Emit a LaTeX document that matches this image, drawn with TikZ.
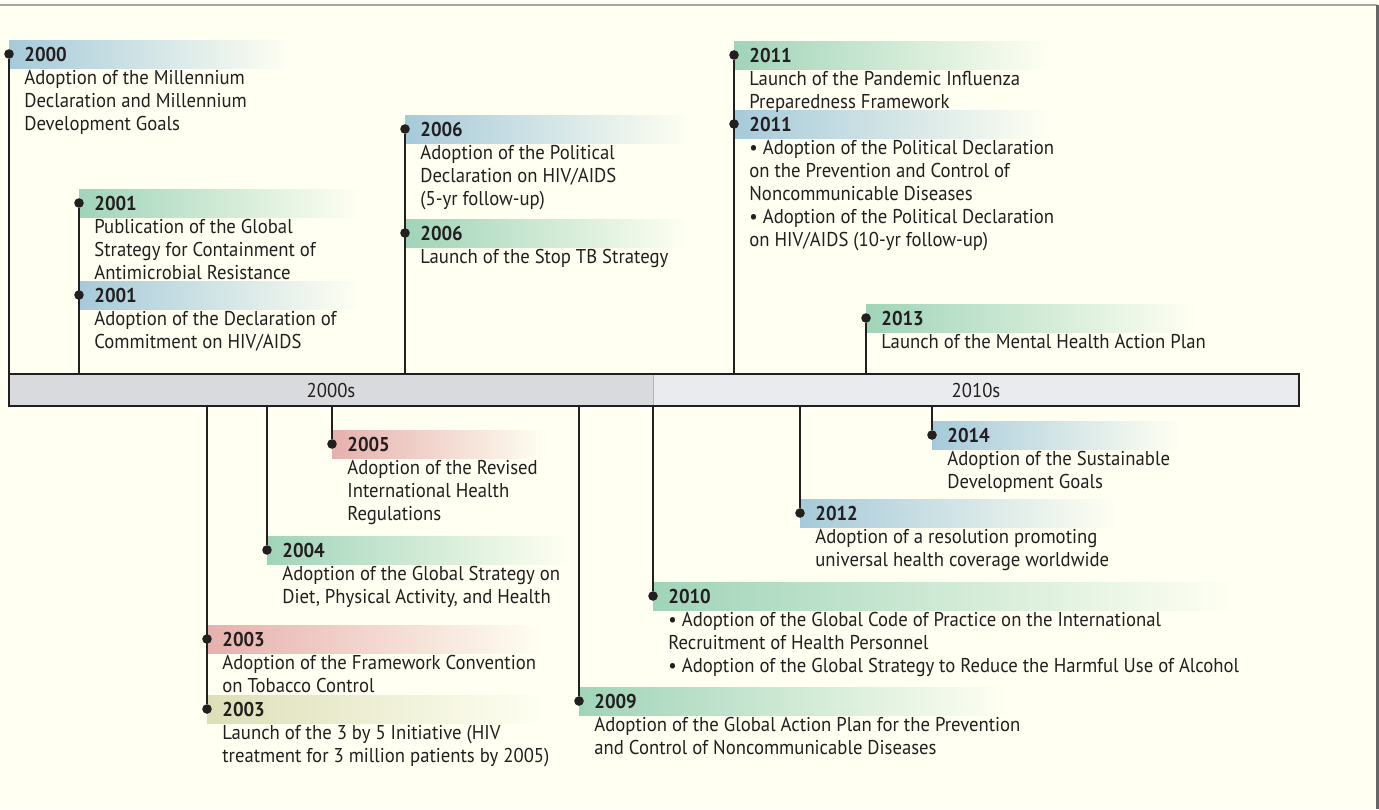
\documentclass[tikz,border=0pt]{standalone}
\usepackage{fontspec}
\setmainfont{PT Sans}[FakeStretch=0.935]
\usepackage{tikz}

\definecolor{paper}{HTML}{FFFFF2}
\definecolor{ink}{HTML}{231F20}
\definecolor{blueband}{HTML}{A6CADA}
\definecolor{greenband}{HTML}{A0D4B9}
\definecolor{redband}{HTML}{E6B0AE}
\definecolor{oliveband}{HTML}{DDDFB8}
\definecolor{decadeA}{HTML}{D8DADD}
\definecolor{decadeB}{HTML}{EAEBEF}

\newcommand{\yearline}[1]{\rule{0pt}{8pt}\textbf{#1}}

\tikzset{
  stem/.style={line width=1.2pt, ink},
  dot/.style={circle, fill=ink, inner sep=0pt, minimum size=4.8pt},
  entry/.style={anchor=north west, inner sep=0pt, align=left, text=ink,
    font=\fontsize{10}{11.5}\selectfont},
}

\begin{document}
\begin{tikzpicture}[x=0.5pt, y=-0.5pt]
\useasboundingbox (0,0) rectangle (1379,809);
\fill[paper] (0,0) rectangle (1379,809);
\draw[line width=1pt, gray!70] (0,5) -- (1377,5);
\draw[line width=1.5pt, black!60] (1377,5) -- (1377,809);

\coordinate (bartop) at (0,374);
\coordinate (barbot) at (0,406);

\shade[left color=blueband, right color=paper] (9,40) rectangle (290,68);
\shade[left color=greenband, right color=paper] (79,189) rectangle (360,217);
\shade[left color=blueband, right color=paper] (79,281) rectangle (360,309);
\shade[left color=blueband, right color=paper] (405,115) rectangle (690,143);
\shade[left color=greenband, right color=paper] (405,219) rectangle (690,247);
\shade[left color=greenband, right color=paper] (734,41) rectangle (1050,69);
\shade[left color=blueband, right color=paper] (734,110) rectangle (1050,138);
\shade[left color=greenband, right color=paper] (866,304) rectangle (1195,332);
\shade[left color=redband, right color=paper] (332,430) rectangle (547,458);
\shade[left color=greenband, right color=paper] (267,536) rectangle (570,564);
\shade[left color=redband, right color=paper] (207,625) rectangle (543,653);
\shade[left color=oliveband, right color=paper] (207,695) rectangle (543,723);
\shade[left color=greenband, right color=paper] (579,687) rectangle (1010,715);
\shade[left color=greenband, right color=paper] (653,582) rectangle (1235,610);
\shade[left color=blueband, right color=paper] (800,499) rectangle (1117,527);
\shade[left color=blueband, right color=paper] (932,421) rectangle (1180,449);

\node[dot] (d2000) at (9,54) {};
\node[dot] (d2001a) at (79,203) {};
\node[dot] (d2001b) at (79,295) {};
\node[dot] (d2006a) at (405,129) {};
\node[dot] (d2006b) at (405,233) {};
\node[dot] (d2011a) at (734,55) {};
\node[dot] (d2011b) at (734,124) {};
\node[dot] (d2013) at (866,318) {};
\node[dot] (d2005) at (332,444) {};
\node[dot] (d2004) at (267,550) {};
\node[dot] (d2003a) at (207,639) {};
\node[dot] (d2003b) at (207,709) {};
\node[dot] (d2009) at (579,701) {};
\node[dot] (d2010) at (653,596) {};
\node[dot] (d2012) at (800,513) {};
\node[dot] (d2014) at (932,435) {};

\draw[stem] (d2000) -- (d2000 |- bartop);
\draw[stem] (d2001a) -- (d2001a |- bartop);
\draw[stem] (d2006a) -- (d2006a |- bartop);
\draw[stem] (d2011a) -- (d2011a |- bartop);
\draw[stem] (d2013) -- (d2013 |- bartop);
\draw[stem] (d2003b) -- (d2003b |- barbot);
\draw[stem] (d2004) -- (d2004 |- barbot);
\draw[stem] (d2005) -- (d2005 |- barbot);
\draw[stem] (d2009) -- (d2009 |- barbot);
\draw[stem] (d2010) -- (d2010 |- barbot);
\draw[stem] (d2012) -- (d2012 |- barbot);
\draw[stem] (d2014) -- (d2014 |- barbot);

\node[entry] (t2000) at (24,45) {\yearline{2000}\\Adoption of the Millennium\\Declaration and Millennium\\Development Goals};
\node[entry] (t2001a) at (94,194) {\yearline{2001}\\Publication of the Global\\Strategy for Containment of\\Antimicrobial Resistance};
\node[entry] (t2001b) at (94,286) {\yearline{2001}\\Adoption of the Declaration of\\Commitment on HIV/AIDS};
\node[entry] (t2006a) at (420,120) {\yearline{2006}\\Adoption of the Political\\Declaration on HIV/AIDS\\(5-yr follow-up)};
\node[entry] (t2006b) at (420,224) {\yearline{2006}\\Launch of the Stop TB Strategy};
\node[entry] (t2011a) at (749,46) {\yearline{2011}\\Launch of the Pandemic Influenza\\Preparedness Framework};
\node[entry] (t2011b) at (749,115) {\yearline{2011}\\• Adoption of the Political Declaration\\on the Prevention and Control of\\Noncommunicable Diseases\\• Adoption of the Political Declaration\\on HIV/AIDS (10-yr follow-up)};
\node[entry] (t2013) at (881,309) {\yearline{2013}\\Launch of the Mental Health Action Plan};
\node[entry] (t2005) at (347,435) {\yearline{2005}\\Adoption of the Revised\\International Health\\Regulations};
\node[entry] (t2004) at (282,541) {\yearline{2004}\\Adoption of the Global Strategy on\\Diet, Physical Activity, and Health};
\node[entry] (t2003a) at (222,630) {\yearline{2003}\\Adoption of the Framework Convention\\on Tobacco Control};
\node[entry] (t2003b) at (222,700) {\yearline{2003}\\Launch of the 3 by 5 Initiative (HIV\\treatment for 3 million patients by 2005)};
\node[entry] (t2009) at (594,692) {\yearline{2009}\\Adoption of the Global Action Plan for the Prevention\\and Control of Noncommunicable Diseases};
\node[entry] (t2010) at (668,587) {\yearline{2010}\\• Adoption of the Global Code of Practice on the International\\Recruitment of Health Personnel\\• Adoption of the Global Strategy to Reduce the Harmful Use of Alcohol};
\node[entry] (t2012) at (815,504) {\yearline{2012}\\Adoption of a resolution promoting\\universal health coverage worldwide};
\node[entry] (t2014) at (947,426) {\yearline{2014}\\Adoption of the Sustainable\\Development Goals};

\fill[decadeA] (9,374) rectangle (653,406);
\fill[decadeB] (653,374) rectangle (1299,406);
\draw[gray!60, line width=0.5pt] (653,374) -- (653,406);
\draw[line width=1pt, ink] (9,374) rectangle (1299,406);
\node[text=ink, font=\fontsize{10}{11.5}\selectfont] (dec2000) at (331,390) {2000s};
\node[text=ink, font=\fontsize{10}{11.5}\selectfont] (dec2010) at (976,390) {2010s};

\end{tikzpicture}
\end{document}
